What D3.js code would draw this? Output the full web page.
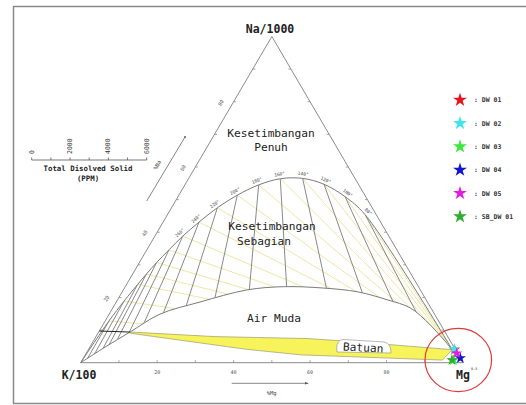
<!DOCTYPE html>
<html><head><meta charset="utf-8">
<script src="https://cdn.jsdelivr.net/npm/d3@7"></script>
<style>body{margin:0;background:#fff}svg{display:block}</style>
</head><body>
<svg id="chart" width="526" height="405"></svg>
<script>
// Full equilibrium line: temperature (°C) and composition in % of Na/1000, K/100, √Mg
const eqTemp = [80, 100, 120, 140, 160, 180, 200, 220, 240, 260, 280, 300, 320, 340, 380, 450];
const eqNa   = [45.3, 50.9, 54.7, 56.5, 56.4, 54.5, 51.4, 47.5, 43.1, 38.8, 34.6, 30.7, 27.2, 24.0, 18.9, 12.8];
const eqK    = [2.9, 5.4, 9.0, 13.7, 19.6, 26.2, 33.4, 40.5, 47.5, 53.9, 59.6, 64.8, 69.2, 73.1, 79.2, 86.2];
const eqMg   = [51.8, 43.7, 36.3, 29.8, 24.0, 19.3, 15.3, 12.0, 9.4, 7.3, 5.8, 4.5, 3.6, 2.9, 1.9, 1.0];
const labelTemps = [80, 100, 120, 140, 160, 180, 200, 220, 240, 260];

// Immature water boundary (Na %, Mg %), from the K corner to the Mg end
const immNa = [0, 4.8, 9.4, 14.9, 18.6, 22.3, 23.3, 22.9, 21.7, 19.2, 16.8, 11.6, 4.0];
const immMg = [0, 4.0, 8.2, 13.3, 21.9, 32.3, 41.3, 51.9, 61.7, 70.8, 77.8, 85.6, 95.2];
// short segment joining the immature boundary to the Na–K side
const immLeftNa = [9.7, 9.4];
const immLeftMg = [0.0, 8.2];

// Rock dissolution band (Na %, Mg %) – upper edge then lower edge
const rockUpNa = [9.4, 8.0, 7.4, 6.5, 4.0];
const rockUpMg = [8.2, 31.2, 55.7, 67.5, 95.2];
const rockLoNa = [9.0, 4.1, 2.4, 0.8, 4.0];
const rockLoMg = [8.6, 41.3, 56.4, 94.2, 95.2];

// Samples
const sampleNames  = ["DW 01", "DW 02", "DW 03", "DW 04", "DW 05", "SB_DW 01"];
const sampleColors = ["#e8141c", "#3ee6ea", "#3ce83c", "#1414cc", "#e01ee0", "#2eae2e"];
const sampleNa = [4.0, 4.2, 0.8, 1.4, 2.9, 0.8];
const sampleMg = [95.8, 95.6, 97.1, 98.6, 96.9, 96.7];

// Axis ticks
const sideTicks = [20, 40, 60, 80];
const tdsTicks  = [0, 1000, 2000, 3000, 4000, 5000, 6000];
const tdsLabels = [0, 2000, 4000, 6000];

const svg = d3.select("#chart");
const mono = "'DejaVu Sans Mono', monospace";

// frame
svg.append("rect").attr("x", 13.5).attr("y", 6.5).attr("width", 520).attr("height", 397)
  .attr("fill", "none").attr("stroke", "#8a8a8a").attr("stroke-width", 1.5);

// ternary scales: base runs K(0) → Mg(100), height runs Na 0 → 100
const xS = d3.scaleLinear().domain([0, 100]).range([80.7, 463]);
const yS = d3.scaleLinear().domain([0, 100]).range([362.7, 36.5]);
const P = (na, mg) => [xS(mg + na / 2), yS(na)];

const apex = P(100, 0), kV = P(0, 0), mgV = P(0, 100);
const line = d3.line();
const curve = d3.line().curve(d3.curveCatmullRom.alpha(0.5));

const eqPts = eqTemp.map((t, i) => {
  const s = eqNa[i] + eqK[i] + eqMg[i];
  return P(eqNa[i] / s * 100, eqMg[i] / s * 100);
});
const immPts = immNa.map((n, i) => P(n, immMg[i]));
const leftPts = immLeftNa.map((n, i) => P(n, immLeftMg[i]));
const endPt = immPts[immPts.length - 1];

// full equilibrium curve extended to the Mg end and the K corner
const eqFull = [endPt, ...eqPts, kV];

// partial equilibrium region (clip)
const defs = svg.append("defs");
defs.append("clipPath").attr("id", "partial")
  .append("path")
  .attr("d", curve(eqFull) + curve(immPts).replace(/^M/, "L") + "Z");

// K–Na isotherms (radiate from the Mg end)
const iso = svg.append("g").attr("clip-path", "url(#partial)");
eqPts.forEach(p => {
  iso.append("path").attr("d", line([p, [p[0] + (endPt[0] - p[0]) * 1.05, p[1] + (endPt[1] - p[1]) * 1.05]]))
    .attr("stroke", "#ece7a6").attr("stroke-width", 1).attr("fill", "none");
});
// K–Mg isotherms (radiate from the Na apex)
eqPts.forEach(p => {
  const t = (kV[1] - apex[1]) / (p[1] - apex[1]);
  const q = [apex[0] + (p[0] - apex[0]) * t, kV[1]];
  iso.append("path").attr("d", line([p, q]))
    .attr("stroke", "#6b6b6b").attr("stroke-width", 0.8).attr("fill", "none");
});

// triangle
svg.append("path").attr("d", line([apex, kV, mgV]) + "Z")
  .attr("fill", "none").attr("stroke", "#8c8c8c").attr("stroke-width", 1);

// side ticks
const tk = svg.append("g").attr("stroke", "#8c8c8c").attr("stroke-width", 0.8);
d3.range(10, 100, 10).forEach(v => {
  const b = P(0, v); tk.append("line").attr("x1", b[0]).attr("x2", b[0]).attr("y1", b[1]).attr("y2", b[1] - 2.5);
  const l = P(v, 0); tk.append("line").attr("x1", l[0]).attr("x2", l[0] + 2.5).attr("y1", l[1]).attr("y2", l[1]);
  const r = P(v, 100 - v); tk.append("line").attr("x1", r[0]).attr("x2", r[0] - 2.5).attr("y1", r[1]).attr("y2", r[1]);
});
sideTicks.forEach(v => {
  const b = P(0, v);
  svg.append("text").attr("x", b[0]).attr("y", b[1] + 11).attr("text-anchor", "middle")
    .attr("font-family", mono).attr("font-size", 5).attr("fill", "#555").text(v);
  const l = P(v, 0);
  svg.append("text").attr("transform", `translate(${l[0] - 11},${l[1] + 2}) rotate(-60)`)
    .attr("text-anchor", "middle").attr("font-family", mono).attr("font-size", 5).attr("fill", "#555").text(v);
});

// full equilibrium curve, immature boundary
svg.append("path").attr("d", curve(eqFull)).attr("fill", "none").attr("stroke", "#7a7a7a").attr("stroke-width", 1);
svg.append("path").attr("d", curve(immPts)).attr("fill", "none").attr("stroke", "#7a7a7a").attr("stroke-width", 1);
svg.append("path").attr("d", line(leftPts)).attr("fill", "none").attr("stroke", "#222").attr("stroke-width", 1);

// rock dissolution band
const rockPts = [...rockUpNa.map((n, i) => P(n, rockUpMg[i])), ...rockLoNa.map((n, i) => P(n, rockLoMg[i])).reverse()];
svg.append("path").attr("d", line(rockPts) + "Z")
  .attr("fill", "#f7f35a").attr("stroke", "#8a8a6a").attr("stroke-width", 0.6);
// label pocket inside the band
svg.append("path").attr("d", "M337,352 C336,344 338,339.5 344,339.5 L384,342 C389,343 391,347 391,353 Z")
  .attr("fill", "#fff").attr("stroke", "#8a8a8a").attr("stroke-width", 0.6);

// temperature labels along the full equilibrium curve
labelTemps.forEach(t => {
  const i = eqTemp.indexOf(t);
  const p = eqPts[i], a = eqPts[Math.max(i - 1, 0)], b = eqPts[Math.min(i + 1, eqPts.length - 1)];
  let ang = Math.atan2(a[1] - b[1], a[0] - b[0]) * 180 / Math.PI;
  svg.append("text").attr("transform", `translate(${p[0]},${p[1]}) rotate(${ang}) translate(0,-3)`)
    .attr("text-anchor", "middle").attr("font-family", mono).attr("font-size", 4.5).attr("fill", "#444")
    .text(t + "°");
});

// region labels
const lab = (x, y, s, size, w) => svg.append("text").attr("x", x).attr("y", y).attr("text-anchor", "middle")
  .attr("font-family", mono).attr("font-size", size).attr("font-weight", w || "normal").attr("fill", "#222").text(s);
lab(271, 137, "Kesetimbangan", 11.2);
lab(271, 151, "Penuh", 11.2);
lab(272, 230, "Kesetimbangan", 11.2);
lab(264, 245, "Sebagian", 11.2);
lab(274, 322, "Air Muda", 11.2);
svg.append("text").attr("transform", "translate(363,351.5) rotate(3)").attr("text-anchor", "middle")
  .attr("font-family", mono).attr("font-size", 11.2).attr("fill", "#222").text("Batuan");
lab(270, 33, "Na/1000", 11.5, "bold");
lab(79, 379, "K/100", 11.5, "bold");
lab(463, 379, "Mg", 11.5, "bold");
svg.append("text").attr("x", 471).attr("y", 370).attr("font-family", mono).attr("font-size", 3.5).attr("fill", "#333").text("0.5");

// %Na and %Mg arrows
svg.append("path").attr("d", line([[146.7, 201], [185, 137]])).attr("stroke", "#666").attr("stroke-width", 0.8);
svg.append("circle").attr("cx", 185).attr("cy", 137).attr("r", 0.9).attr("fill", "#555");
svg.append("text").attr("transform", "translate(159,166) rotate(-60)").attr("text-anchor", "middle")
  .attr("font-family", mono).attr("font-size", 5.5).attr("fill", "#444").text("%Na");
svg.append("path").attr("d", line([[231.7, 383.3], [308.3, 383.3]])).attr("stroke", "#666").attr("stroke-width", 0.8);
svg.append("path").attr("d", line([[308.3, 383.3], [305, 382], [305, 384.6]]) + "Z").attr("fill", "#555");
svg.append("text").attr("x", 271.7).attr("y", 395).attr("text-anchor", "middle")
  .attr("font-family", mono).attr("font-size", 5.5).attr("fill", "#444").text("%Mg");

// TDS scale bar
const tdsX = d3.scaleLinear().domain([0, 6000]).range([31.7, 146.7]);
svg.append("path").attr("d", line([[tdsX(0), 160], [tdsX(6000), 160]])).attr("stroke", "#555").attr("stroke-width", 0.8);
tdsTicks.forEach(v => svg.append("line").attr("x1", tdsX(v)).attr("x2", tdsX(v)).attr("y1", 160).attr("y2", 157.5)
  .attr("stroke", "#555").attr("stroke-width", 0.8));
tdsLabels.forEach(v => svg.append("text").attr("transform", `translate(${tdsX(v) + 2},154) rotate(-90)`)
  .attr("font-family", mono).attr("font-size", 6.5).attr("fill", "#333").text(v));
lab(88, 171, "Total Disolved Solid", 7.4, "bold");
lab(88, 181, "(PPM)", 7.4, "bold");

// samples
const star = d3.symbol().type(d3.symbolStar);
sampleNames.forEach((n, i) => {
  const p = P(sampleNa[i], sampleMg[i]);
  svg.append("path").attr("d", star.size(40)()).attr("transform", `translate(${p[0]},${p[1]})`).attr("fill", sampleColors[i]);
});
// highlight circle
svg.append("ellipse").attr("cx", 458.3).attr("cy", 360).attr("rx", 33.3).attr("ry", 31.7)
  .attr("fill", "none").attr("stroke", "#e03a3a").attr("stroke-width", 1.2);

// legend
sampleNames.forEach((n, i) => {
  const y = 100 + i * 23.3;
  svg.append("path").attr("d", star.size(60)()).attr("transform", `translate(460,${y})`).attr("fill", sampleColors[i]);
  svg.append("text").attr("x", 474).attr("y", y + 2.3).attr("font-family", mono).attr("font-size", 6.5)
    .attr("font-weight", "bold").attr("fill", "#333").text(": " + n);
});
</script>
</body></html>
